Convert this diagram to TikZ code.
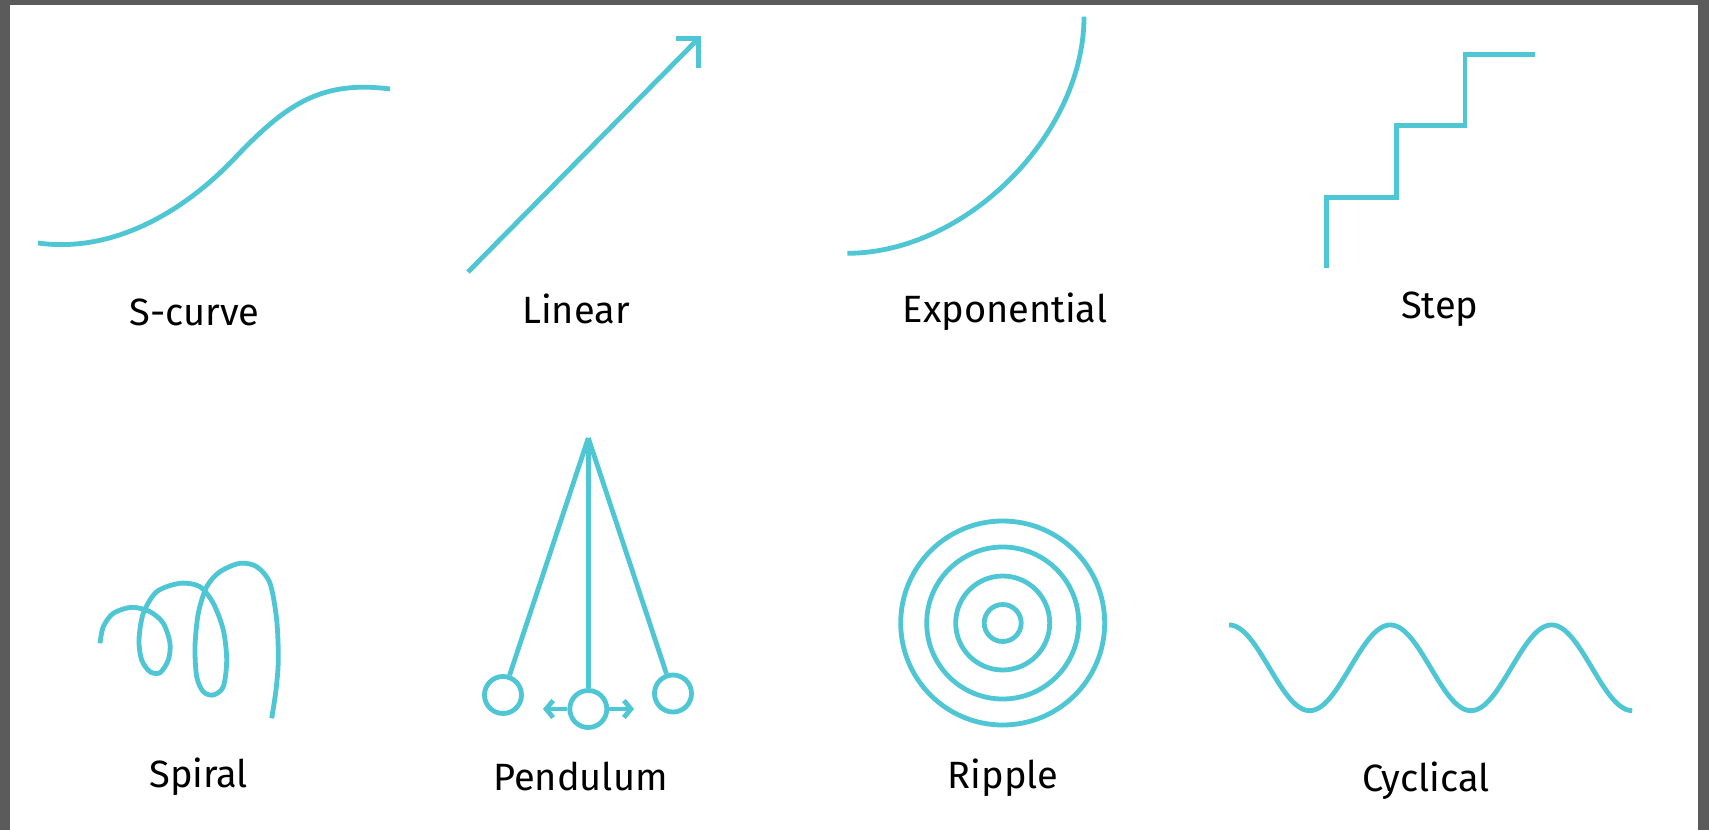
\documentclass[tikz,border=0pt]{standalone}
\usepackage{fontspec}
\setmainfont{Fira Sans}
\usetikzlibrary{arrows.meta}
\definecolor{teal1}{RGB}{78,198,212}
\definecolor{framegray}{RGB}{91,91,91}
\begin{document}
\begin{tikzpicture}[x=0.5pt,y=-0.5pt,
  curve/.style={draw=teal1,line width=2.4pt},
  lbl/.style={anchor=base,inner sep=0pt,font=\fontsize{19}{23}\selectfont,text=black},
  bob/.style={circle,draw=teal1,line width=2.4pt,minimum size=18.5pt,inner sep=0pt},
  barb/.style={-{Straight Barb[length=3.5pt,width=8.5pt]}}
]
\useasboundingbox (0,0) rectangle (1709,830);
\fill[white] (0,0) rectangle (1709,830);
\fill[framegray] (0,0) rectangle (10,830);
\fill[framegray] (0,0) rectangle (1709,5);
\fill[framegray] (1698,0) rectangle (1709,830);

% S-curve
\draw[curve] (38,243) .. controls (110,253) and (180,215) .. (233,160)
  .. controls (285,105) and (320,80) .. (390,89);
\node[lbl] (lscurve) at (194.5,325) {S-curve};

% Linear
\coordinate (linA) at (468,272);
\coordinate (linB) at (698.5,38.5);
\coordinate (linH) at (676,38.5);
\coordinate (linV) at (698.5,68);
\draw[curve] (linA) -- (linB);
\draw[curve,line join=miter] (linH) -- (linB) -- (linV);
\node[lbl] (llinear) at (576,323) {Linear};

% Exponential
\draw[curve] (847.3,253.3) .. controls (965.5,253.3) and (1084,135) .. (1084,16.7);
\node[lbl] (lexp) at (1005,322) {Exponential};

% Step
\draw[curve,line join=miter] (1326.7,268.3) |- (1396.7,197.3) |- (1465,125.7) |- (1535,54.3);
\node[lbl] (lstep) at (1439.7,318.5) {Step};

% Spiral
\draw[curve] plot[smooth] coordinates {
  (100,643.3) (103.3,626.7) (113.3,613.3) (131.7,607.3) (150,611.7)
  (163.3,623.3) (170,643.3) (168.3,660) (160,672.7) (150,671.7)
  (141.7,660) (139,640) (143.3,613.3) (156.7,591.7) (180,583.3)
  (200,586.7) (213.3,603.3) (223.3,630) (226.7,660) (223.3,686.7)
  (213.3,695) (203.3,691.7) (196.7,676.7) (195,646.7) (198.3,613.3)
  (206.7,586.7) (220,571.7) (240,563.3) (256.7,566.7) (270,583.3)
  (276.7,620) (278.3,660) (276,690) (271.7,718.3)};
\node[lbl] (lspiral) at (198.7,787) {Spiral};

% Pendulum
\coordinate (pivot) at (588.3,438);
\node[bob] (bobL) at (503,695) {};
\node[bob] (bobM) at (588.3,709) {};
\node[bob] (bobR) at (673,693.5) {};
\draw[curve] (pivot) -- (bobL);
\draw[curve] (pivot) -- (bobM);
\draw[curve] (pivot) -- (bobR);
\coordinate (arrL) at (543,709);
\coordinate (arrR) at (634,709);
\draw[curve,barb] (bobM) -- (arrL);
\draw[curve,barb] (bobM) -- (arrR);
\node[lbl] (lpend) at (580.4,790.5) {Pendulum};

% Ripple
\coordinate (rc) at (1002.7,623);
\foreach \r in {102,76,47,18.5} \draw[curve] (rc) circle[radius=\r];
\node[lbl] (lripple) at (1003,788) {Ripple};

% Cyclical
\draw[curve] plot[domain=0:900,samples=121,smooth] ({1229+\x/360*161.3},{667.8-42.9*cos(\x)});
\node[lbl] (lcyc) at (1426,791.5) {Cyclical};
\end{tikzpicture}
\end{document}
